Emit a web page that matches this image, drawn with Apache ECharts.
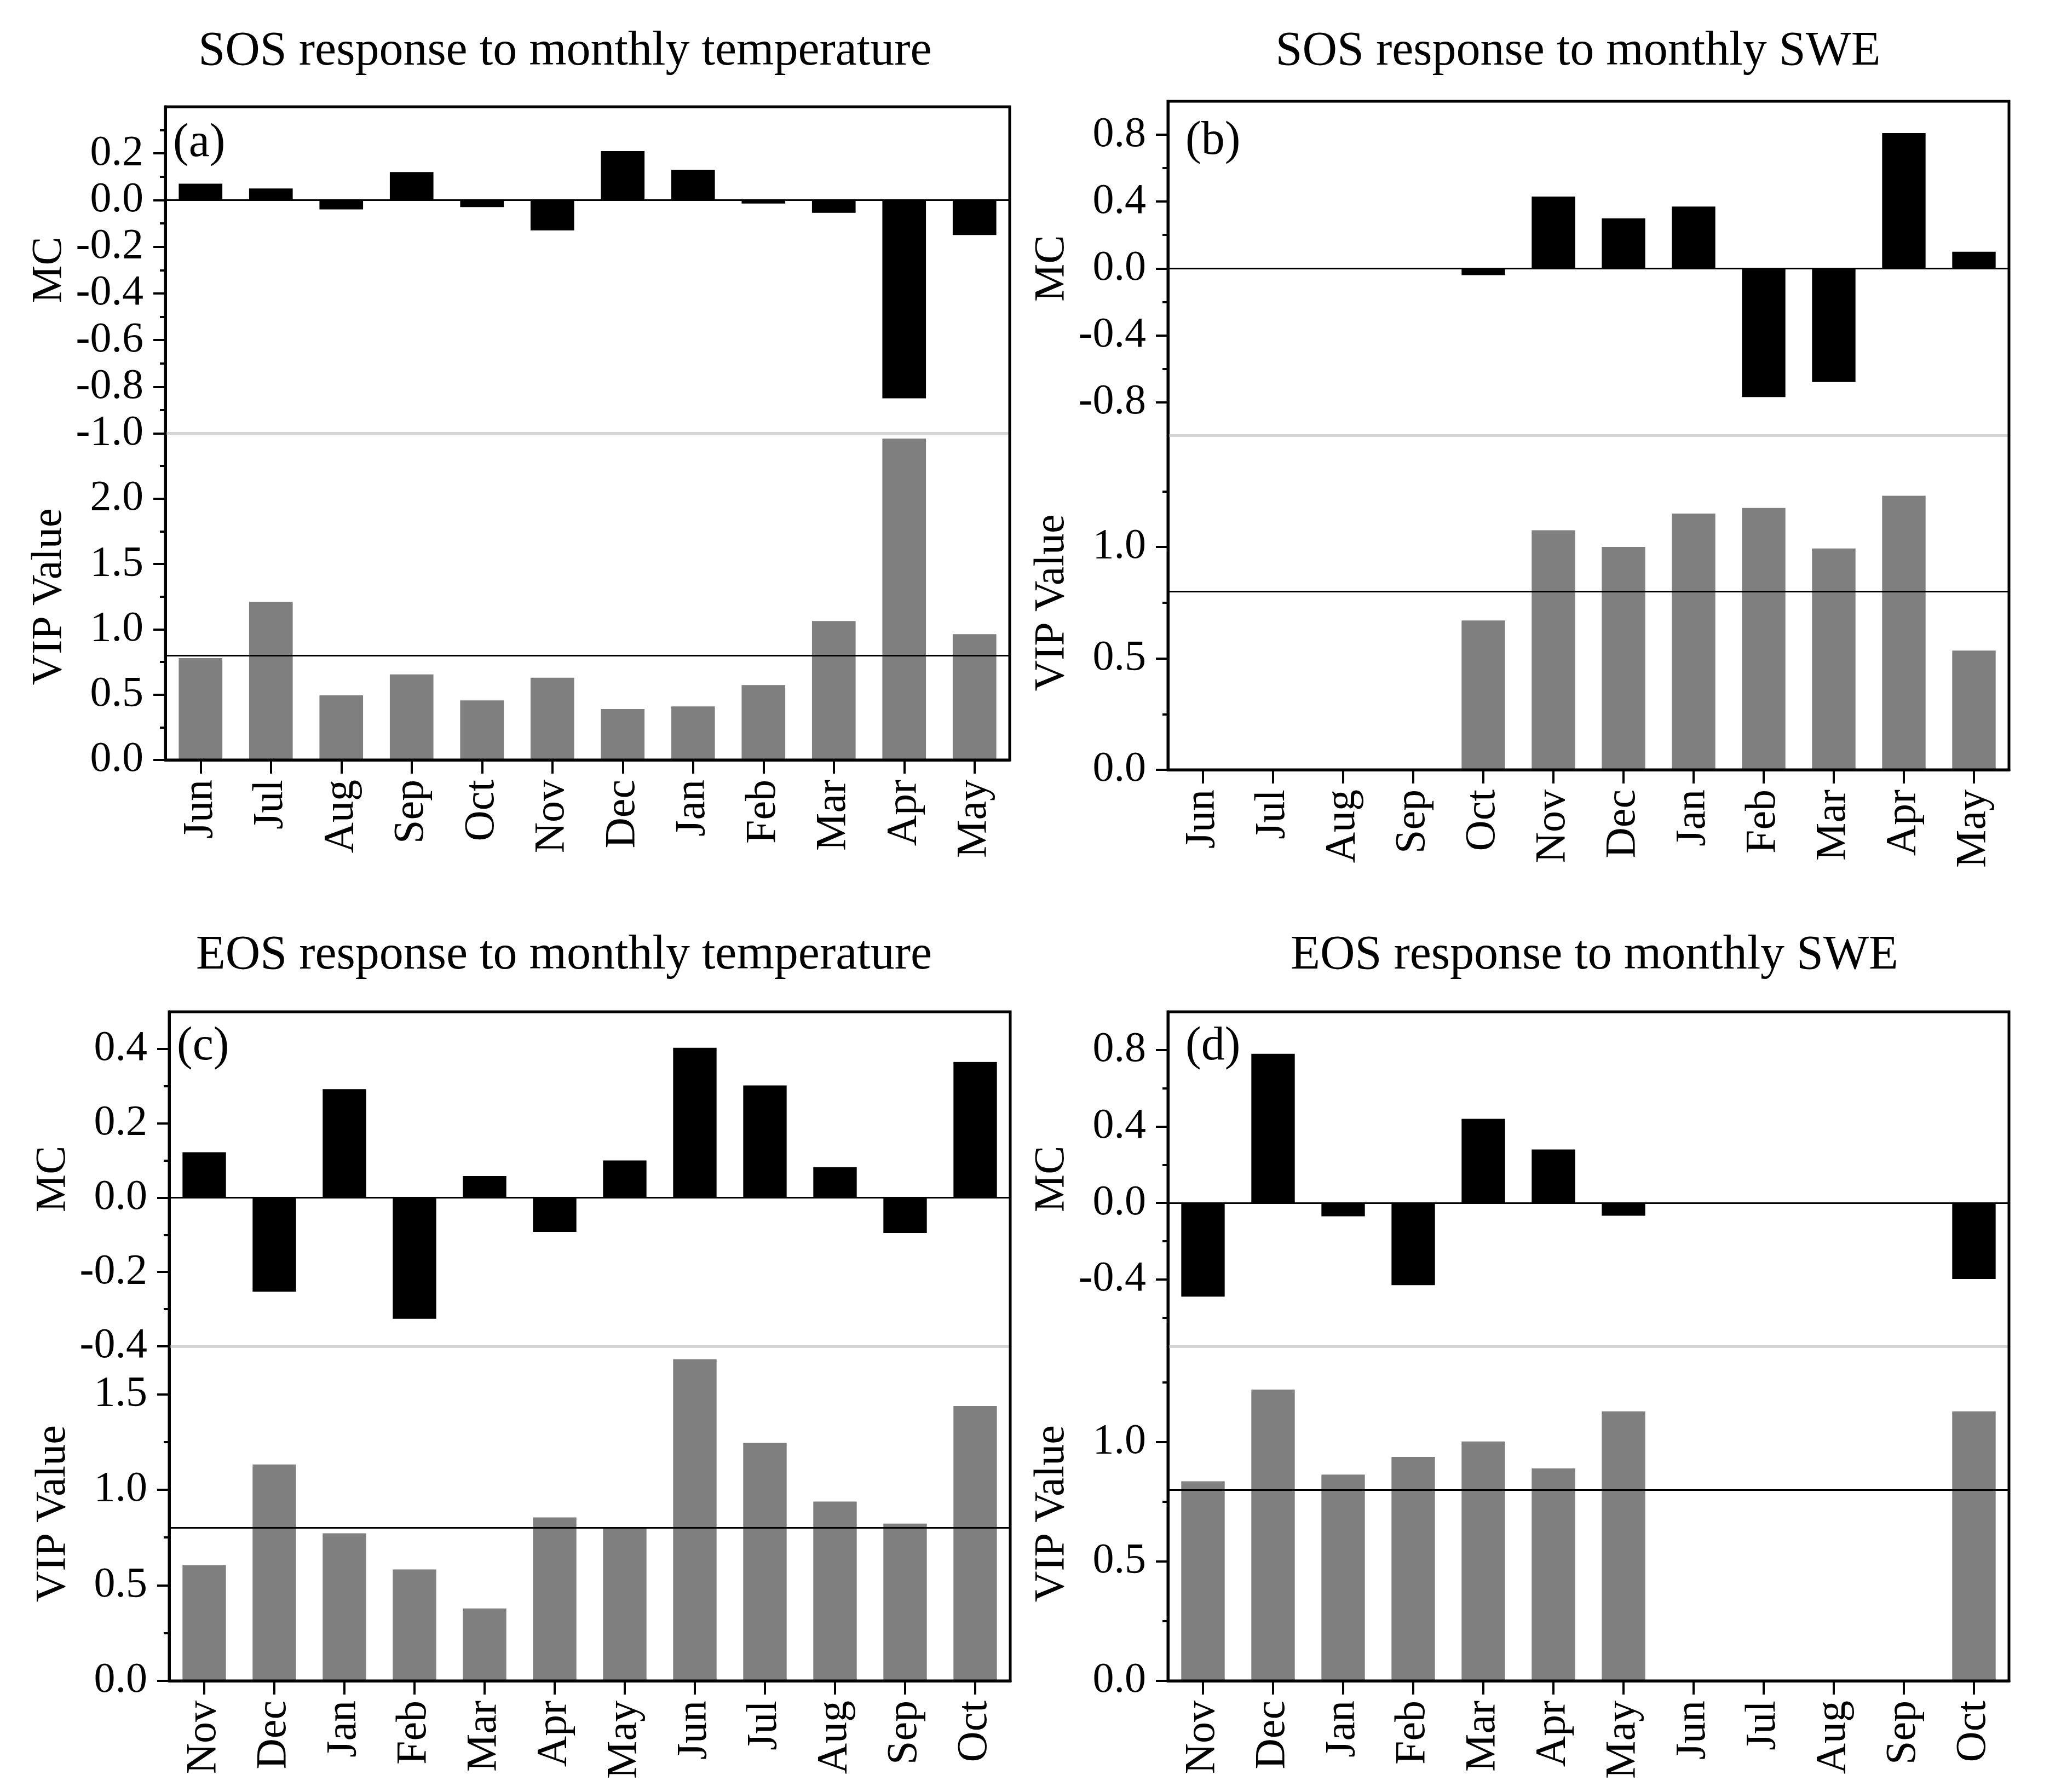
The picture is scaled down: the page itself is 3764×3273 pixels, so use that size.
<!DOCTYPE html>
<html>
<head>
<meta charset="utf-8">
<script src="https://cdn.jsdelivr.net/npm/echarts@6/dist/echarts.min.js"></script>
<style>
html,body{margin:0;padding:0;background:#fff;}
#chart{width:3764px;height:3273px;}
</style>
</head>
<body>
<div id="chart"></div>
<script>
// ---------- data ----------
const catSOS = ['Jun','Jul','Aug','Sep','Oct','Nov','Dec','Jan','Feb','Mar','Apr','May'];
const catEOS = ['Nov','Dec','Jan','Feb','Mar','Apr','May','Jun','Jul','Aug','Sep','Oct'];

const mcSosTemp  = [0.07, 0.05, -0.04, 0.12, -0.03, -0.13, 0.21, 0.13, -0.015, -0.055, -0.85, -0.15];
const vipSosTemp = [0.78, 1.21, 0.495, 0.655, 0.456, 0.63, 0.39, 0.41, 0.573, 1.064, 2.46, 0.963];

const mcSosSwe  = [null, null, null, null, -0.04, 0.43, 0.30, 0.37, -0.77, -0.68, 0.81, 0.10];
const vipSosSwe = [null, null, null, null, 0.67, 1.075, 1.00, 1.15, 1.175, 0.993, 1.23, 0.535];

const mcEosTemp  = [0.122, -0.253, 0.292, -0.326, 0.058, -0.092, 0.100, 0.403, 0.302, 0.082, -0.095, 0.365];
const vipEosTemp = [0.605, 1.132, 0.772, 0.583, 0.379, 0.855, 0.796, 1.683, 1.245, 0.938, 0.823, 1.438];

const mcEosSwe  = [-0.49, 0.78, -0.07, -0.43, 0.44, 0.28, -0.067, null, null, null, null, -0.398];
const vipEosSwe = [0.835, 1.219, 0.863, 0.937, 1.002, 0.889, 1.128, null, null, null, null, 1.128];

const vipThreshold = 0.8;

// tick values (labels / major ticks / minor ticks)
const mcLabelsA = [-1.0, -0.8, -0.6, -0.4, -0.2, 0.0, 0.2];
const mcMajorA  = [-1.0, -0.8, -0.6, -0.4, -0.2, 0.0, 0.2];
const mcMinorA  = [-0.9, -0.7, -0.5, -0.3, -0.1, 0.1, 0.3];
const mcLabelsB = [-0.8, -0.4, 0.0, 0.4, 0.8];
const mcMajorB  = [-0.8, -0.4, 0.0, 0.4, 0.8];
const mcMinorB  = [-0.6, -0.2, 0.2, 0.6];
const mcLabelsC = [-0.4, -0.2, 0.0, 0.2, 0.4];
const mcMajorC  = [-0.4, -0.2, 0.0, 0.2, 0.4];
const mcMinorC  = [-0.3, -0.1, 0.1, 0.3];
const mcLabelsD = [-0.4, 0.0, 0.4, 0.8];
const mcMajorD  = [-0.4, 0.0, 0.4, 0.8];
const mcMinorD  = [-0.6, -0.2, 0.2, 0.6];

const vipLabelsA = [0.0, 0.5, 1.0, 1.5, 2.0];
const vipMajorA  = [0.0, 0.5, 1.0, 1.5, 2.0];
const vipMinorA  = [0.25, 0.75, 1.25, 1.75, 2.25];
const vipLabelsB = [0.0, 0.5, 1.0];
const vipMajorB  = [0.0, 0.5, 1.0];
const vipMinorB  = [0.25, 0.75, 1.25];
const vipLabelsC = [0.0, 0.5, 1.0, 1.5];
const vipMajorC  = [0.0, 0.5, 1.0, 1.5];
const vipMinorC  = [0.25, 0.75, 1.25];
const vipLabelsD = [0.0, 0.5, 1.0];
const vipMajorD  = [0.0, 0.5, 1.0];
const vipMinorD  = [0.25, 0.75, 1.25];

const titles = ['SOS response to monthly temperature', 'SOS response to monthly SWE',
                'EOS response to monthly temperature', 'EOS response to monthly SWE'];
const tags = ['(a)', '(b)', '(c)', '(d)'];

// ---------- panels ----------
const panels = [
  {cats: catSOS, mc: mcSosTemp, vip: vipSosTemp, mcRange: [-1.0, 0.4], vipRange: [0, 2.5],
   mcLabels: mcLabelsA, mcMajor: mcMajorA, mcMinor: mcMinorA, vipLabels: vipLabelsA, vipMajor: vipMajorA, vipMinor: vipMinorA},
  {cats: catSOS, mc: mcSosSwe, vip: vipSosSwe, mcRange: [-1.0, 1.0], vipRange: [0, 1.5],
   mcLabels: mcLabelsB, mcMajor: mcMajorB, mcMinor: mcMinorB, vipLabels: vipLabelsB, vipMajor: vipMajorB, vipMinor: vipMinorB},
  {cats: catEOS, mc: mcEosTemp, vip: vipEosTemp, mcRange: [-0.4, 0.5], vipRange: [0, 1.75],
   mcLabels: mcLabelsC, mcMajor: mcMajorC, mcMinor: mcMinorC, vipLabels: vipLabelsC, vipMajor: vipMajorC, vipMinor: vipMinorC},
  {cats: catEOS, mc: mcEosSwe, vip: vipEosSwe, mcRange: [-0.75, 1.0], vipRange: [0, 1.4],
   mcLabels: mcLabelsD, mcMajor: mcMajorD, mcMinor: mcMinorD, vipLabels: vipLabelsD, vipMajor: vipMajorD, vipMinor: vipMinorD}
];

const layouts = [
  {left: 302,  top: 195,  width: 1542, height: 1193, titleX: 1032, titleY: 95,   tagX: 316,  tagY: 262,  nameGap: 172},
  {left: 2133, top: 185,  width: 1536, height: 1221, titleX: 2882, titleY: 95,   tagX: 2165, tagY: 258,  nameGap: 172},
  {left: 309,  top: 1848, width: 1536, height: 1222, titleX: 1030, titleY: 1746, tagX: 323,  tagY: 1912, nameGap: 172},
  {left: 2133, top: 1848, width: 1536, height: 1222, titleX: 2912, titleY: 1746, tagX: 2165, tagY: 1912, nameGap: 172}
];

const FONT = 'Liberation Serif';
const BLACK = '#000000';
const BAR_GRAY = '#7f7f7f';
const SPLIT_GRAY = '#d6d6d6';
const TICK_FS = 78;
const NAME_FS = 78;
const TITLE_FS = 88;
const TAG_FS = 86;

const option = {
  backgroundColor: '#ffffff',
  animation: false,
  grid: [], xAxis: [], yAxis: [], series: [], graphic: []
};

function addGrid(rect) {
  option.grid.push(Object.assign({containLabel: false}, rect));
  return option.grid.length - 1;
}
const fmt = v => (Math.abs(v) < 1e-9 ? 0 : v).toFixed(1);

function buildPanel(p, L, idx) {
  const half = L.height / 2;
  const rectAll = {left: L.left, top: L.top, width: L.width, height: L.height};
  const rectMC = {left: L.left, top: L.top, width: L.width, height: half};
  const rectVIP = {left: L.left, top: L.top + half, width: L.width, height: half};

  // frame
  const gF = addGrid(Object.assign({show: true, borderColor: BLACK, borderWidth: 5, backgroundColor: 'transparent', z: 5}, rectAll));
  option.xAxis.push({gridIndex: gF, type: 'value', show: false, min: 0, max: 1});
  option.yAxis.push({gridIndex: gF, type: 'value', show: false, min: 0, max: 1});

  // ---- MC main ----
  const gM = addGrid(rectMC);
  const xM = option.xAxis.length;
  option.xAxis.push({
    gridIndex: gM, type: 'category', data: p.cats, position: 'bottom',
    axisLine: {show: true, onZero: true, lineStyle: {color: BLACK, width: 3}},
    axisTick: {show: false}, axisLabel: {show: false}, splitLine: {show: false}
  });
  const yM = option.yAxis.length;
  option.yAxis.push({
    gridIndex: gM, type: 'value', position: 'left', min: p.mcRange[0], max: p.mcRange[1],
    axisLine: {show: true, lineStyle: {color: BLACK, width: 5}},
    axisTick: {show: true, inside: false, length: 22, lineStyle: {color: BLACK, width: 4}, customValues: p.mcMajor},
    axisLabel: {show: true, customValues: p.mcLabels, formatter: fmt, margin: 40,
                fontFamily: FONT, fontSize: TICK_FS, color: BLACK},
    splitLine: {show: false},
    name: 'MC', nameLocation: 'middle', nameGap: L.nameGap,
    nameTextStyle: {fontFamily: FONT, fontSize: NAME_FS, color: BLACK}
  });
  option.series.push({
    type: 'bar', xAxisIndex: xM, yAxisIndex: yM, data: p.mc, barWidth: '62%',
    itemStyle: {color: BLACK}, silent: true, z: 2
  });

  // ---- MC minor ticks ----
  const gMm = addGrid(rectMC);
  option.xAxis.push({gridIndex: gMm, type: 'category', data: p.cats, show: false});
  option.yAxis.push({
    gridIndex: gMm, type: 'value', position: 'left', min: p.mcRange[0], max: p.mcRange[1],
    axisLine: {show: false},
    axisTick: {show: true, length: 10, lineStyle: {color: BLACK, width: 4}, customValues: p.mcMinor},
    axisLabel: {show: false}, splitLine: {show: false}
  });

  // ---- VIP main ----
  const gV = addGrid(rectVIP);
  const xV = option.xAxis.length;
  option.xAxis.push({
    gridIndex: gV, type: 'category', data: p.cats, position: 'bottom',
    axisLine: {show: true, onZero: false, lineStyle: {color: BLACK, width: 5}},
    axisTick: {show: true, alignWithLabel: true, length: 25, lineStyle: {color: BLACK, width: 4}},
    axisLabel: {show: true, interval: 0, rotate: 90, margin: 36, fontFamily: FONT, fontSize: TICK_FS, color: BLACK},
    splitLine: {show: false}
  });
  option.xAxis.push({
    gridIndex: gV, type: 'category', data: p.cats, position: 'top',
    axisLine: {show: true, onZero: false, lineStyle: {color: SPLIT_GRAY, width: 5}},
    axisTick: {show: false}, axisLabel: {show: false}, splitLine: {show: false}
  });
  const yV = option.yAxis.length;
  option.yAxis.push({
    gridIndex: gV, type: 'value', position: 'left', min: p.vipRange[0], max: p.vipRange[1],
    axisLine: {show: true, lineStyle: {color: BLACK, width: 5}},
    axisTick: {show: true, length: 22, lineStyle: {color: BLACK, width: 4}, customValues: p.vipMajor},
    axisLabel: {show: true, customValues: p.vipLabels, formatter: fmt, margin: 40,
                fontFamily: FONT, fontSize: TICK_FS, color: BLACK},
    splitLine: {show: false},
    name: 'VIP Value', nameLocation: 'middle', nameGap: L.nameGap,
    nameTextStyle: {fontFamily: FONT, fontSize: NAME_FS, color: BLACK}
  });
  option.series.push({
    type: 'bar', xAxisIndex: xV, yAxisIndex: yV, data: p.vip, barWidth: '62%',
    itemStyle: {color: BAR_GRAY}, silent: true, z: 2,
    markLine: {
      silent: true, symbol: ['none', 'none'], label: {show: false},
      lineStyle: {color: BLACK, width: 3, type: 'solid'},
      data: [{yAxis: vipThreshold}]
    }
  });

  // ---- VIP minor ticks ----
  const gVm = addGrid(rectVIP);
  option.xAxis.push({gridIndex: gVm, type: 'category', data: p.cats, show: false});
  option.yAxis.push({
    gridIndex: gVm, type: 'value', position: 'left', min: p.vipRange[0], max: p.vipRange[1],
    axisLine: {show: false},
    axisTick: {show: true, length: 10, lineStyle: {color: BLACK, width: 4}, customValues: p.vipMinor},
    axisLabel: {show: false}, splitLine: {show: false}
  });

  // title and tag
  option.graphic.push({
    type: 'text', x: L.titleX, y: L.titleY, silent: true,
    style: {text: titles[idx], fontFamily: FONT, fontSize: TITLE_FS, fill: BLACK, align: 'center', verticalAlign: 'middle'}
  });
  option.graphic.push({
    type: 'text', x: L.tagX, y: L.tagY, silent: true, z: 10,
    style: {text: tags[idx], fontFamily: FONT, fontSize: TAG_FS, fill: BLACK, align: 'left', verticalAlign: 'middle'}
  });
}

panels.forEach((p, i) => buildPanel(p, layouts[i], i));

const chart = echarts.init(document.getElementById('chart'), null, {renderer: 'canvas'});
chart.setOption(option);
</script>
</body>
</html>
